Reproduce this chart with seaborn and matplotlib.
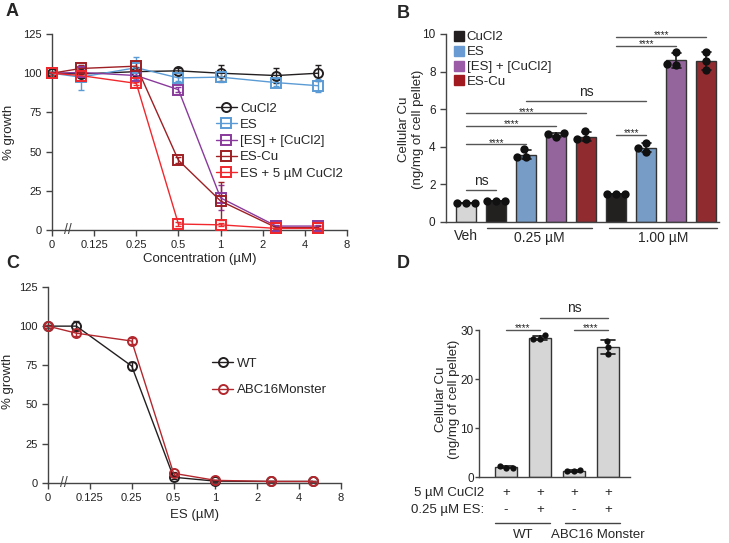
import numpy as np
import pandas as pd
import matplotlib
matplotlib.use('Agg')
import matplotlib.pyplot as plt
from matplotlib.lines import Line2D
import seaborn as sns

sns.set_style('ticks')
plt.rcParams['font.family'] = ['Liberation Sans', 'DejaVu Sans']
plt.rcParams['axes.edgecolor'] = '#444444'
plt.rcParams['axes.linewidth'] = 1.0
plt.rcParams['xtick.color'] = '#444444'
plt.rcParams['ytick.color'] = '#444444'
plt.rcParams['xtick.labelcolor'] = '#222222'
plt.rcParams['ytick.labelcolor'] = '#222222'

# ---------------- data ----------------
# dose-response (A, C): concentration in uM, 0 drawn on a broken log axis
conc = [0, 0.1, 0.25, 0.5, 1, 2.5, 5]
dose_ticks = [0, 0.125, 0.25, 0.5, 1, 2, 4, 8]
dose_tick_labels = ['0', '0.125', '0.25', '0.5', '1', '2', '4', '8']

a_names = ['CuCl2', 'ES', '[ES] + [CuCl2]', 'ES-Cu', 'ES + 5 µM CuCl2']
a_cucl2 = [100, 99.5, 101, 101.5, 100, 98.5, 100]
a_cucl2_sd = [1, 2, 3, 1.5, 5, 5, 5]
a_es = [100, 97.5, 103.5, 97, 97.5, 94, 92]
a_es_sd = [1, 8, 7, 2, 3, 2, 4]
a_mix = [100, 100.5, 98.5, 89.5, 20.5, 2.5, 2.5]
a_mix_sd = [1, 2, 3, 1.5, 8, 1, 1]
a_escu = [100, 103, 104.5, 44.5, 18.5, 1.5, 1.5]
a_escu_sd = [1, 2, 3, 2, 12, 1, 1]
a_es5 = [100, 98.5, 93.5, 3.8, 3.3, 1, 1]
a_es5_sd = [1, 1, 1, 1, 1, 0.5, 0.5]

c_names = ['WT', 'ABC16Monster']
c_wt = [100, 100, 74.5, 3.5, 1, 0.8, 0.8]
c_wt_sd = [1, 3, 2.5, 1, 0.5, 0.5, 0.5]
c_abc = [100, 95.5, 90.5, 6, 1.5, 0.8, 0.8]
c_abc_sd = [1, 1.5, 2, 1, 0.5, 0.5, 0.5]

# cellular Cu (B): nine groups, three replicates each
b_groups = ['Veh', 'CuCl2 0.25', 'ES 0.25', 'mix 0.25', 'ES-Cu 0.25',
            'CuCl2 1.00', 'ES 1.00', 'mix 1.00', 'ES-Cu 1.00']
b_reps = [[0.98, 0.98, 0.98], [1.1, 1.1, 1.1], [3.43, 3.86, 3.43],
          [4.5, 4.71, 4.66], [4.39, 4.83, 4.39], [1.46, 1.5, 1.46],
          [3.73, 4.21, 3.91], [9.06, 8.35, 8.38], [9.03, 8.56, 8.08]]
b_legend = ['CuCl2', 'ES', '[ES] + [CuCl2]', 'ES-Cu']

# cellular Cu (D)
d_groups = ['WT -', 'WT +', 'ABC -', 'ABC +']
d_reps = [[1.96, 2.37, 1.98], [28.2, 28.97, 28.3],
          [1.2, 1.45, 1.2], [27.9, 26.65, 25.1]]
d_cucl2_row = ['+', '+', '+', '+']
d_es_row = ['-', '+', '-', '+']

# ---------------- styles ----------------
a_colors = ['#231f20', '#5b9bd5', '#8a3a9c', '#9e1f24', '#f0282d']
a_markers = ['o', 's', 's', 's', 's']
c_colors = ['#231f20', '#b2282e']
b_colors = ['#d6d6d6', '#231f20', '#6a9bd3', '#9b5ba6', '#a11a20',
            '#231f20', '#6a9bd3', '#9b5ba6', '#a11a20']
ZERO_POS = 1 / 16
x_pos = [c if c > 0 else ZERO_POS for c in conc]
TXT = 9.5

fig = plt.figure(figsize=(7.29, 5.43), dpi=100)
axA = fig.add_axes([52 / 729, 1 - 230 / 543, 295 / 729, 196 / 543])
axC = fig.add_axes([48 / 729, 1 - 482.7 / 543, 293 / 729, 195.7 / 543])
axB = fig.add_axes([446 / 729, 1 - 221.7 / 543, 273 / 729, 187.7 / 543])
axD = fig.add_axes([479.3 / 729, 1 - 477.3 / 543, 150.7 / 729, 147 / 543])


def dose_panel(ax, names, series, sds, colors, markers):
    for name, ys, sd, col, mk in zip(names, series, sds, colors, markers):
        ax.errorbar(x_pos, ys, yerr=sd, fmt='none', ecolor=col,
                    elinewidth=1, capsize=2.5, clip_on=False, zorder=2)
        sns.lineplot(x=x_pos, y=ys, ax=ax, color=col, marker=mk,
                     markersize=6.5, markerfacecolor='none',
                     markeredgecolor=col, markeredgewidth=1.4,
                     linewidth=1, label=name, clip_on=False, zorder=3)
    ax.set_xscale('log', base=2)
    ax.set_xlim(ZERO_POS, 8)
    ax.set_xticks([ZERO_POS if t == 0 else t for t in dose_ticks])
    ax.set_xticklabels(dose_tick_labels)
    ax.minorticks_off()
    ax.set_ylim(0, 125)
    ax.set_yticks(range(0, 126, 25))
    ax.tick_params(labelsize=8, length=4, width=1)
    sns.despine(ax=ax)
    ax.text(0.081, 0, '//', ha='center', va='center', fontsize=10,
            color='#444444', clip_on=False)
    ax.set_ylabel('% growth', fontsize=TXT)


# ---- A ----
dose_panel(axA, a_names, [a_cucl2, a_es, a_mix, a_escu, a_es5],
           [a_cucl2_sd, a_es_sd, a_mix_sd, a_escu_sd, a_es5_sd],
           a_colors, a_markers)
axA.set_xlabel('Concentration (µM)', fontsize=TXT, labelpad=2)
axA.yaxis.set_label_coords(-0.125, 0.5)
axA.legend(frameon=False, loc='upper left', bbox_to_anchor=(0.555, 0.65),
           borderaxespad=0, borderpad=0, handlelength=1.6,
           handletextpad=0.25, labelspacing=0.3, fontsize=TXT)

# ---- C ----
dose_panel(axC, c_names, [c_wt, c_abc], [c_wt_sd, c_abc_sd], c_colors,
           ['o', 'o'])
axC.set_xlabel('ES (µM)', fontsize=TXT, labelpad=4)
axC.yaxis.set_label_coords(-0.115, 0.52)
axC.legend(frameon=False, loc='upper left', bbox_to_anchor=(0.56, 0.64),
           borderaxespad=0, borderpad=0, handlelength=1.6,
           handletextpad=0.25, labelspacing=1.1, fontsize=TXT)


def bar_panel(ax, groups, reps, colors, dot_size, capsize):
    df = pd.DataFrame({'group': np.repeat(groups, [len(r) for r in reps]),
                       'cu': np.concatenate(reps)})
    sns.barplot(data=df, x='group', y='cu', hue='group', order=groups,
                hue_order=groups, palette=colors, legend=False,
                errorbar='sd', capsize=capsize, width=0.66,
                edgecolor='#333333', linewidth=1,
                err_kws={'linewidth': 1.2, 'color': '#1a1a1a'}, ax=ax)
    sns.swarmplot(data=df, x='group', y='cu', order=groups, color='#111111',
                  size=dot_size, ax=ax, clip_on=False)
    ax.set_xticks([])
    ax.set_xlabel('')
    ax.set_ylabel('Cellular Cu\n(ng/mg of cell pellet)', fontsize=TXT,
                  linespacing=1.2)
    ax.tick_params(labelsize=8.5, length=4, width=1)
    sns.despine(ax=ax)


def bracket(ax, i, j, y, label):
    ax.plot([i, j], [y, y], color='#555555', lw=1, clip_on=False)
    if label == 'ns':
        ax.annotate('ns', ((i + j) / 2, y), xytext=(0, 1.5),
                    textcoords='offset points', ha='center', va='bottom',
                    fontsize=10, annotation_clip=False)
    else:
        ax.annotate(label, ((i + j) / 2, y), xytext=(0, -2.5),
                    textcoords='offset points', ha='center', va='bottom',
                    fontsize=7, annotation_clip=False)


# ---- B ----
bar_panel(axB, b_groups, b_reps, b_colors, 6, 0.3)
axB.set_xlim(-0.67, 8.43)
axB.set_ylim(0, 10)
axB.set_yticks(range(0, 11, 2))
axB.yaxis.set_label_coords(-0.08, 0.49)
for i, j, y, lab in [(0, 1, 1.69, 'ns'), (0, 2, 4.12, '****'),
                     (0, 3, 5.11, '****'), (0, 4, 5.78, '****'),
                     (2, 6, 6.45, 'ns'), (5, 6, 4.62, '****'),
                     (5, 7, 9.38, '****'), (5, 8, 9.86, '****')]:
    bracket(axB, i, j, y, lab)
tB = axB.get_xaxis_transform()
axB.text(0, -0.076, 'Veh', transform=tB, ha='center', va='center',
         fontsize=10)
for x0, x1, lab in [(0.7, 4.2, '0.25 µM'), (4.77, 8.37, '1.00 µM')]:
    axB.plot([x0, x1], [-0.035, -0.035], transform=tB, color='#444444',
             lw=1, clip_on=False)
    axB.text((x0 + x1) / 2, -0.087, lab, transform=tB, ha='center',
             va='center', fontsize=10)
handles = [Line2D([], [], marker='s', ls='', color=c, markersize=6.5)
           for c in ['#231f20', '#6a9bd3', '#9b5ba6', '#a11a20']]
axB.legend(handles, b_legend, frameon=False, loc='upper left',
           bbox_to_anchor=(0.03, 1.015), borderaxespad=0, borderpad=0,
           handlelength=0.8, handletextpad=0.15, labelspacing=0.2,
           fontsize=TXT)

# ---- D ----
bar_panel(axD, d_groups, d_reps, ['#d6d6d6'] * 4, 4.5, 0.4)
axD.set_xlim(-0.785, 3.65)
axD.set_ylim(0, 30)
axD.set_yticks([0, 10, 20, 30])
axD.tick_params(length=3, pad=1)
axD.yaxis.set_label_coords(-0.125, 0.53)
for i, j, y, lab in [(0, 1, 30.05, '****'), (2, 3, 30.05, '****'),
                     (1, 3, 32.6, 'ns')]:
    bracket(axD, i, j, y, lab)
tD = axD.get_xaxis_transform()
axD.text(-0.65, -0.105, '5 µM CuCl2', transform=tD, ha='right',
         va='center', fontsize=TXT)
axD.text(-0.65, -0.222, '0.25 µM ES:', transform=tD, ha='right',
         va='center', fontsize=TXT)
for k in range(len(d_groups)):
    axD.text(k, -0.105, d_cucl2_row[k], transform=tD, ha='center',
             va='center', fontsize=TXT)
    axD.text(k, -0.222, d_es_row[k], transform=tD, ha='center',
             va='center', fontsize=TXT)
for x0, x1, xl, lab in [(-0.31, 1.31, 0.5, 'WT'),
                        (1.74, 3.36, 2.7, 'ABC16 Monster')]:
    axD.plot([x0, x1], [-0.313, -0.313], transform=tD, color='#444444',
             lw=1, clip_on=False)
    axD.text(xl, -0.395, lab, transform=tD, ha='center', va='center',
             fontsize=TXT)

# panel letters
for lab, x, y in [('A', 12, 12), ('B', 403, 13), ('C', 13, 264),
                  ('D', 403, 263)]:
    fig.text(x / 729, 1 - y / 543, lab, fontsize=13, fontweight='bold',
             ha='center', va='center')

fig.savefig('out.png', dpi=100)
